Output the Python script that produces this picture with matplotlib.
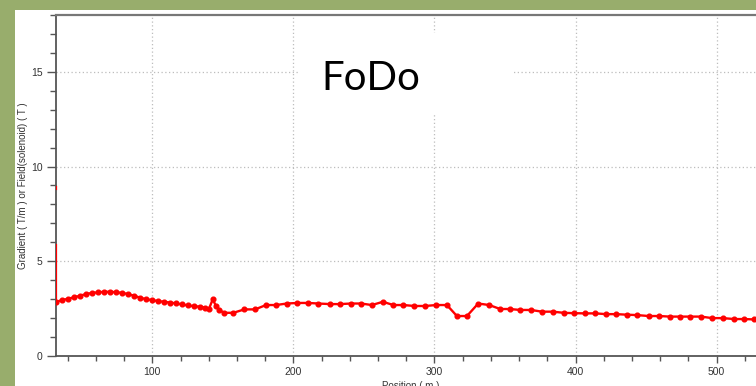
import matplotlib
matplotlib.use("Agg")
import matplotlib.pyplot as plt
from matplotlib.patches import Rectangle
from matplotlib.ticker import MultipleLocator

# Gradient / solenoid field along the FoDo lattice
position = [31.8, 36.0, 40.2, 44.5, 48.7, 53.0, 57.2, 61.5, 65.7, 70.0,
            74.2, 78.5, 82.8, 87.0, 91.3, 95.5, 99.8, 104.0, 108.3, 112.6,
            116.8, 121.0, 125.3, 129.6, 133.8, 137.4, 140.2, 142.8, 145.2, 147.5,
            150.9, 157.4, 165.2, 172.8, 180.6, 187.7, 195.3, 202.8, 210.6, 217.7,
            226.0, 233.1, 240.7, 248.0, 255.6, 263.4, 270.9, 278.0, 285.8, 293.4,
            301.2, 308.8, 315.9, 323.0, 331.0, 338.8, 346.6, 353.3, 360.8, 368.4,
            376.2, 384.0, 391.5, 399.1, 406.4, 414.0, 421.6, 428.9, 436.5, 443.6,
            451.8, 459.4, 466.7, 473.8, 481.4, 489.0, 496.8, 504.3, 512.6, 519.7,
            526.8]
gradient = [2.85, 2.95, 3.02, 3.10, 3.18, 3.27, 3.33, 3.36, 3.39, 3.39,
            3.37, 3.33, 3.27, 3.18, 3.08, 3.00, 2.95, 2.90, 2.86, 2.82,
            2.78, 2.72, 2.67, 2.63, 2.60, 2.56, 2.50, 2.99, 2.63, 2.43,
            2.28, 2.28, 2.46, 2.46, 2.69, 2.69, 2.77, 2.80, 2.80, 2.77,
            2.74, 2.74, 2.77, 2.77, 2.69, 2.86, 2.69, 2.69, 2.64, 2.64,
            2.69, 2.69, 2.11, 2.11, 2.77, 2.69, 2.48, 2.48, 2.43, 2.43,
            2.34, 2.34, 2.28, 2.26, 2.25, 2.25, 2.21, 2.21, 2.18, 2.16,
            2.11, 2.11, 2.08, 2.08, 2.08, 2.08, 2.00, 2.00, 1.95, 1.95,
            1.93]

# Entry section: solenoid ramp and the short spike above it
entry_x = [31.8, 31.8]
entry_y = [5.85, 2.85]
spike_x = [31.8, 31.8]
spike_y = [8.80, 8.92]

W, H = 756, 386
fig = plt.figure(figsize=(W / 100, H / 100), dpi=100)
fig.patch.set_facecolor("#98ad6c")

# white slide panel
fig.add_artist(Rectangle((15 / W, 0), 1, (H - 10) / H, transform=fig.transFigure,
                         facecolor="white", edgecolor="none", zorder=-1))

left, bottom, top = 56 / W, (H - 356) / H, (H - 15) / H
ax = fig.add_axes([left, bottom, (766 - 56) / W, top - bottom])
ax.set_xlim(31.7, 535)
ax.set_ylim(0, 18)

ax.plot(position, gradient, color="#ff0000", lw=1.7, marker="o", ms=3.4,
        solid_joinstyle="round", zorder=3)
ax.plot(entry_x, entry_y, color="#ff0000", lw=1.6, zorder=3)
ax.plot(spike_x, spike_y, color="#ff0000", lw=1.6, zorder=3)

ax.xaxis.set_major_locator(MultipleLocator(100))
ax.xaxis.set_minor_locator(MultipleLocator(20))
ax.yaxis.set_major_locator(MultipleLocator(5))
ax.yaxis.set_minor_locator(MultipleLocator(1))

ax.grid(True, which="major", color="#bdbdbd", linestyle=(0, (1, 2)), lw=0.9)
ax.set_axisbelow(True)

for s in ["left", "bottom"]:
    ax.spines[s].set_color("#555555")
    ax.spines[s].set_linewidth(1.3)
ax.spines["top"].set_color("#777777")
ax.spines["top"].set_linewidth(1.6)
ax.spines["right"].set_visible(False)

ax.tick_params(axis="y", which="major", length=6.5, width=1, color="#555555",
               labelsize=7.5, labelcolor="#333333", pad=3)
ax.tick_params(axis="y", which="minor", length=4.3, width=1, color="#555555")
ax.tick_params(axis="x", which="major", length=5, width=1, color="#555555",
               labelsize=7.5, labelcolor="#333333", pad=3)
ax.tick_params(axis="x", which="minor", length=3.6, width=1, color="#555555")

for lab in ax.get_xticklabels() + ax.get_yticklabels():
    lab.set_fontfamily("Liberation Sans")

ax.set_ylabel("Gradient ( T/m ) or Field(solenoid) ( T )", fontsize=7,
              color="#333333", family="Liberation Sans", labelpad=2)
ax.set_xlabel("Position ( m )", fontsize=7, color="#333333",
              family="Liberation Sans", labelpad=3)

# title box on the slide
fig.add_artist(Rectangle((300 / W, (H - 113) / H), 212 / W, 80 / H,
                         transform=fig.transFigure, facecolor="white",
                         edgecolor="none", zorder=1))
fig.text(321 / W, (H - 90) / H, "FoDo", fontsize=29, family="Lato",
         color="black", ha="left", va="baseline", zorder=2)

fig.savefig("out.png", dpi=100)
